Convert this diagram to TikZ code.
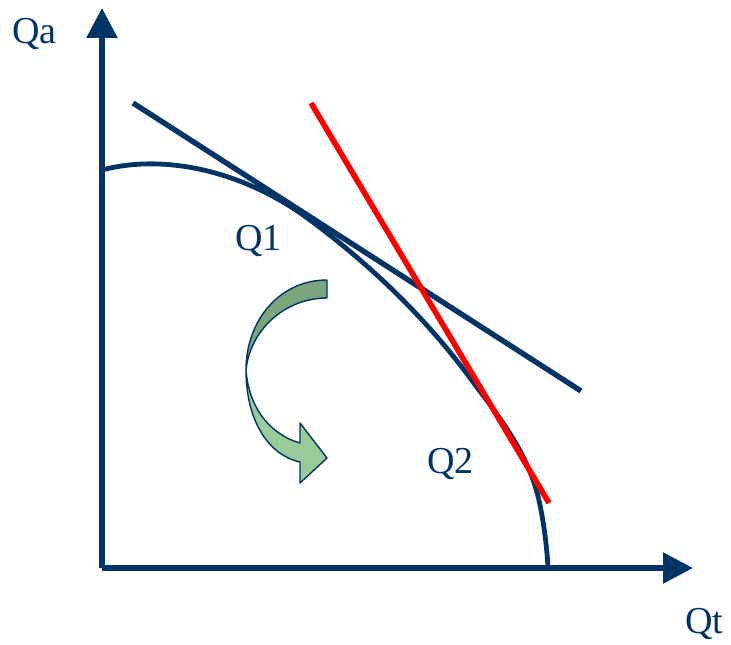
\documentclass[tikz,border=0pt]{standalone}
\usepackage{fontspec}
\setmainfont{Liberation Serif}
\usetikzlibrary{arrows.meta,positioning}
\definecolor{navy}{HTML}{003366}
\definecolor{leafdark}{HTML}{7BA67B}
\definecolor{leaflight}{HTML}{99CC99}

\begin{document}
\begin{tikzpicture}[x=0.03cm,y=-0.03cm,
    axis/.style={navy,line width=4.8pt,-{Triangle[length=25.5pt,width=25.5pt]}},
    frontier/.style={navy,line width=4.1pt},
    budget/.style={navy,line width=4.6pt},
    newbudget/.style={red,line width=4.8pt},
    lbl/.style={navy,font=\fontsize{32.5}{38}\selectfont,inner sep=0pt,anchor=base west},
    twist/.style={draw=navy,line width=1.2pt,line join=round}]

  \useasboundingbox (0,0) rectangle (731,644);

  % axes
  \coordinate (O) at (102,568);
  \coordinate (ytip) at (102,8);
  \coordinate (xtip) at (693,568);
  \draw[axis] (O) -- (ytip);
  \draw[axis] (O) -- (xtip);
  \node[lbl] (qa) at (12,43) {Qa};
  \node[lbl] (qt) at (685,633) {Qt};

  % production frontier
  \coordinate (f0) at (102,170);
  \coordinate (f1) at (310,220);
  \coordinate (f2) at (470,378);
  \coordinate (f3) at (540,505);
  \coordinate (f4) at (548,568);
  \draw[frontier] (f0) .. controls (170,152) and (250,175) .. (f1)
                       .. controls (360,257) and (420,310) .. (f2)
                       .. controls (500,418) and (530,455) .. (f3)
                       .. controls (545,530) and (547,550) .. (f4);

  % price lines
  \coordinate (b1) at (133,103);
  \coordinate (b2) at (581,391);
  \draw[budget] (b1) -- (b2);
  \coordinate (r1) at (311,103);
  \coordinate (r2) at (549,503);
  \draw[newbudget] (r1) -- (r2);

  \node[lbl] (q1) at (235,250) {Q1};
  \node[lbl] (q2) at (427,473) {Q2};

  % turning arrow
  \draw[twist,fill=leafdark] (327,280) .. controls (280,280) and (246,320) .. (246,370)
        .. controls (250,330) and (285,298) .. (327,298) -- cycle;
  \draw[twist,fill=leaflight] (246,370) .. controls (246,420) and (268,455) .. (300,462)
        -- (300,483) -- (327,458) -- (300,423) -- (300,443)
        .. controls (272,435) and (249,410) .. (246,370) -- cycle;
\end{tikzpicture}
\end{document}
